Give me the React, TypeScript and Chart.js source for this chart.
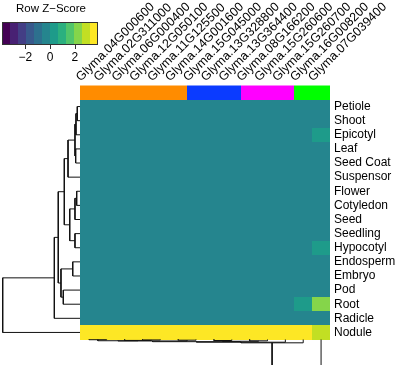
import React, { useEffect, useRef } from "react";
import { Chart, registerables } from "chart.js";

Chart.register(...registerables);

// ---------------- data ----------------
const genes = [
  "Glyma.04G000600", "Glyma.02G311000", "Glyma.06G000400", "Glyma.12G050100",
  "Glyma.11G125500", "Glyma.14G001600", "Glyma.15G045000", "Glyma.13G328800",
  "Glyma.13G364400", "Glyma.08G166200", "Glyma.15G260600", "Glyma.15G260700",
  "Glyma.16G008200", "Glyma.07G039400",
];
const geneGroups = [0, 0, 0, 0, 0, 0, 1, 1, 1, 2, 2, 2, 3, 3];
const groupColors = ["#FF8C00", "#0B3BFF", "#FF00FF", "#00FF00"];

const tissues = [
  "Petiole", "Shoot", "Epicotyl", "Leaf", "Seed Coat", "Suspensor", "Flower",
  "Cotyledon", "Seed", "Seedling", "Hypocotyl", "Endosperm", "Embryo", "Pod",
  "Root", "Radicle", "Nodule",
];

// Row z-scores: one row per tissue, one value per gene (same order as genes)
const zScores = [
  [-0.24, -0.24, -0.24, -0.25, -0.24, -0.24, -0.24, -0.24, -0.24, -0.25, -0.24, -0.24, -0.26, -0.45], // Petiole
  [-0.24, -0.24, -0.24, -0.24, -0.24, -0.24, -0.24, -0.24, -0.24, -0.24, -0.24, -0.24, -0.26, -0.45], // Shoot
  [-0.24, -0.24, -0.24, -0.24, -0.24, -0.24, -0.24, -0.24, -0.24, -0.24, -0.24, -0.24, -0.25, 0.35], // Epicotyl
  [-0.24, -0.24, -0.24, -0.24, -0.24, -0.24, -0.24, -0.24, -0.24, -0.24, -0.24, -0.24, -0.26, -0.45], // Leaf
  [-0.24, -0.24, -0.24, -0.24, -0.24, -0.24, -0.24, -0.24, -0.24, -0.24, -0.24, -0.24, -0.26, -0.45], // Seed Coat
  [-0.24, -0.24, -0.24, -0.24, -0.24, -0.24, -0.24, -0.24, -0.24, -0.24, -0.24, -0.24, -0.26, -0.45], // Suspensor
  [-0.24, -0.24, -0.24, -0.24, -0.24, -0.24, -0.24, -0.24, -0.24, -0.24, -0.24, -0.24, -0.26, -0.45], // Flower
  [-0.24, -0.24, -0.24, -0.24, -0.24, -0.24, -0.24, -0.24, -0.24, -0.24, -0.24, -0.24, -0.26, -0.45], // Cotyledon
  [-0.24, -0.24, -0.24, -0.24, -0.24, -0.24, -0.24, -0.24, -0.24, -0.24, -0.24, -0.24, -0.26, -0.45], // Seed
  [-0.24, -0.24, -0.24, -0.24, -0.24, -0.24, -0.24, -0.24, -0.24, -0.24, -0.24, -0.24, -0.26, -0.45], // Seedling
  [-0.24, -0.24, -0.24, -0.24, -0.24, -0.24, -0.24, -0.24, -0.24, -0.24, -0.24, -0.24, -0.25, 0.35], // Hypocotyl
  [-0.24, -0.24, -0.24, -0.24, -0.24, -0.24, -0.24, -0.24, -0.24, -0.24, -0.24, -0.24, -0.26, -0.45], // Endosperm
  [-0.24, -0.24, -0.24, -0.24, -0.24, -0.24, -0.24, -0.24, -0.24, -0.24, -0.24, -0.24, -0.26, -0.45], // Embryo
  [-0.24, -0.24, -0.24, -0.24, -0.24, -0.24, -0.24, -0.24, -0.24, -0.24, -0.24, -0.24, -0.26, -0.45], // Pod
  [-0.24, -0.24, -0.24, -0.24, -0.24, -0.24, -0.24, -0.24, -0.24, -0.24, -0.24, -0.24, 0.30, 2.20], // Root
  [-0.24, -0.24, -0.24, -0.24, -0.24, -0.24, -0.24, -0.24, -0.24, -0.24, -0.24, -0.24, -0.26, -0.45], // Radicle
  [3.88, 3.88, 3.88, 3.88, 3.88, 3.88, 3.88, 3.88, 3.88, 3.88, 3.88, 3.88, 3.70, 3.00], // Nodule
];

// colour key
const keyLimit = 3.88;
const keyTicks = [-2, 0, 2];
const viridis12 = [
  "#440154", "#482173", "#433E85", "#38598C", "#2D708E", "#25858E",
  "#1E9B8A", "#2BB07F", "#51C56A", "#85D54A", "#C2DF23", "#FDE725",
];

// dendrogram merges: [childA, childB, height]; leaves are 0..n-1, merge k creates node n+k
const rowMerges: [number, number, number][] = [
  [0, 1, 0.35], [17, 2, 0.52], [3, 4, 0.56], [18, 19, 0.65], [20, 5, 1.55],
  [6, 7, 0.43], [22, 8, 0.65], [9, 10, 0.65], [23, 24, 1.33], [21, 25, 2.03],
  [11, 12, 0.94], [13, 14, 2.16], [27, 28, 2.46], [26, 29, 2.81], [30, 15, 3.32],
  [31, 16, 10],
];
const colMerges: [number, number, number][] = [
  [0, 1, 0.03], [3, 4, 0.06], [2, 15, 0.12], [14, 16, 0.16], [5, 6, 0.09],
  [17, 18, 0.19], [7, 8, 0.13], [9, 10, 0.17], [20, 21, 0.23], [19, 22, 0.28],
  [23, 11, 0.35], [24, 12, 0.43], [25, 13, 6],
];

// ---------------- layout ----------------
const W = 400;
const H = 365;
const AREA_LEFT = 80;
const AREA_RIGHT_GAP = 70;
const AREA_TOP = 99.5;
const AREA_BOTTOM_GAP = 25.5;
const HEAT_W = W - AREA_LEFT - AREA_RIGHT_GAP;
const HEAT_H = H - AREA_TOP - AREA_BOTTOM_GAP;
const DENDRO_PX_PER_UNIT = 7.73;
const SIDE_H = 14.5;
const FONT = "'Liberation Sans', Arial, Helvetica, sans-serif";

function colorFor(v: number) {
  let i = Math.floor(((v + keyLimit) / (2 * keyLimit)) * viridis12.length);
  if (i < 0) i = 0;
  if (i > viridis12.length - 1) i = viridis12.length - 1;
  return viridis12[i];
}

function dendroSegments(merges: [number, number, number][], nLeaves: number) {
  const pos: number[] = Array.from({ length: nLeaves }, (_, i) => i);
  const hgt: number[] = new Array(nLeaves).fill(0);
  const segs: { h: number; p: number }[][] = [];
  merges.forEach(([a, b, h]) => {
    segs.push([
      { h: hgt[a], p: pos[a] },
      { h, p: pos[a] },
      { h, p: pos[b] },
      { h: hgt[b], p: pos[b] },
    ]);
    pos.push((pos[a] + pos[b]) / 2);
    hgt.push(h);
  });
  return segs;
}

const heatPlugin = {
  id: "heatCells",
  beforeDatasetsDraw(chart: any) {
    const { ctx, chartArea } = chart;
    const xs = chart.scales.x;
    const ys = chart.scales.y;
    ctx.save();
    zScores.forEach((row, r) => {
      row.forEach((v, c) => {
        const x0 = Math.round(xs.getPixelForValue(c - 0.5));
        const x1 = Math.round(xs.getPixelForValue(c + 0.5));
        const y0 = Math.round(ys.getPixelForValue(r - 0.5));
        const y1 = Math.round(ys.getPixelForValue(r + 0.5));
        ctx.fillStyle = colorFor(v);
        ctx.fillRect(x0, y0, x1 - x0, y1 - y0);
      });
    });
    const top = Math.round(chartArea.top);
    geneGroups.forEach((g, c) => {
      const x0 = Math.round(xs.getPixelForValue(c - 0.5));
      const x1 = Math.round(xs.getPixelForValue(c + 0.5));
      ctx.fillStyle = groupColors[g];
      ctx.fillRect(x0, top - SIDE_H, x1 - x0, SIDE_H);
    });
    ctx.restore();
  },
  afterDraw(chart: any) {
    const { ctx } = chart;
    const kx0 = 2, kx1 = 98, ky0 = 22, ky1 = 45;
    const toX = (v: number) => kx0 + ((v + keyLimit) / (2 * keyLimit)) * (kx1 - kx0);
    ctx.save();
    const n = viridis12.length;
    viridis12.forEach((col, i) => {
      const a = kx0 + (i / n) * (kx1 - kx0);
      const b = kx0 + ((i + 1) / n) * (kx1 - kx0);
      ctx.fillStyle = col;
      ctx.fillRect(a, ky0, b - a, ky1 - ky0);
    });
    ctx.strokeStyle = "#333";
    ctx.lineWidth = 1;
    ctx.strokeRect(kx0 + 0.5, ky0 + 0.5, kx1 - kx0 - 1, ky1 - ky0 - 1);
    ctx.fillStyle = "#000";
    ctx.font = `11.5px ${FONT}`;
    ctx.textAlign = "center";
    ctx.textBaseline = "middle";
    ctx.fillText("Row Z\u2212Score", 51, 9);
    ctx.font = `12px ${FONT}`;
    keyTicks.forEach((t) => {
      const x = Math.round(toX(t)) + 0.5;
      ctx.beginPath();
      ctx.moveTo(x, ky1);
      ctx.lineTo(x, ky1 + 4);
      ctx.stroke();
      ctx.fillText(t < 0 ? "\u2212" + Math.abs(t) : String(t), toX(t), 58);
    });
    ctx.restore();
  },
};

export default function App() {
  const ref = useRef<HTMLCanvasElement | null>(null);

  useEffect(() => {
    if (!ref.current) return;
    const rowSegs = dendroSegments(rowMerges, tissues.length);
    const colSegs = dendroSegments(colMerges, genes.length);
    const lineBase = {
      showLine: true,
      pointRadius: 0,
      borderColor: "#111",
      borderWidth: 1,
      tension: 0,
      fill: false,
      clip: false as any,
    };
    const datasets: any[] = [
      ...rowSegs.map((s) => ({
        ...lineBase,
        xAxisID: "xd",
        yAxisID: "y",
        data: s.map((p) => ({ x: p.h, y: p.p })),
      })),
      ...colSegs.map((s) => ({
        ...lineBase,
        xAxisID: "x",
        yAxisID: "yd",
        data: s.map((p) => ({ x: p.p, y: p.h })),
      })),
    ];

    const chart = new Chart(ref.current, {
      type: "scatter",
      data: { datasets },
      plugins: [heatPlugin],
      options: {
        animation: false,
        responsive: false,
        events: [],
        layout: { padding: { left: AREA_LEFT, right: 0, top: 0, bottom: AREA_BOTTOM_GAP } },
        plugins: { legend: { display: false }, tooltip: { enabled: false } },
        scales: {
          x: {
            type: "linear",
            position: "top",
            min: -0.5,
            max: genes.length - 0.5,
            grid: { display: false, drawTicks: false },
            border: { display: false },
            afterBuildTicks: (s: any) => {
              s.ticks = genes.map((_, i) => ({ value: i }));
            },
            afterFit: (s: any) => {
              s.height = AREA_TOP;
              s.paddingLeft = 0;
              s.paddingRight = 0;
              s.paddingTop = 0;
              s.paddingBottom = 0;
            },
            ticks: {
              autoSkip: false,
              minRotation: 45,
              maxRotation: 45,
              padding: 15,
              color: "#000",
              font: { size: 12.5, family: FONT },
              callback: (v: any) => genes[v as number],
            },
          },
          y: {
            type: "linear",
            position: "right",
            reverse: true,
            min: -0.5,
            max: tissues.length - 0.5,
            grid: { display: false, drawTicks: false },
            border: { display: false },
            afterBuildTicks: (s: any) => {
              s.ticks = tissues.map((_, i) => ({ value: i }));
            },
            afterFit: (s: any) => {
              s.width = AREA_RIGHT_GAP;
              s.paddingLeft = 0;
              s.paddingRight = 0;
              s.paddingTop = 0;
              s.paddingBottom = 0;
            },
            ticks: {
              autoSkip: false,
              padding: 4,
              color: "#000",
              font: { size: 12, family: FONT },
              callback: (v: any) => tissues[v as number],
            },
          },
          xd: {
            type: "linear",
            axis: "x",
            display: false,
            reverse: true,
            max: 0,
            min: -HEAT_W / DENDRO_PX_PER_UNIT,
          },
          yd: {
            type: "linear",
            axis: "y",
            display: false,
            reverse: true,
            max: 0,
            min: -HEAT_H / DENDRO_PX_PER_UNIT,
          },
        },
      } as any,
    });
    return () => chart.destroy();
  }, []);

  return (
    <div style={{ position: "absolute", left: 0, top: 0, width: W, height: H }}>
      <canvas ref={ref} width={W} height={H} style={{ display: "block", width: W, height: H }} />
    </div>
  );
}
